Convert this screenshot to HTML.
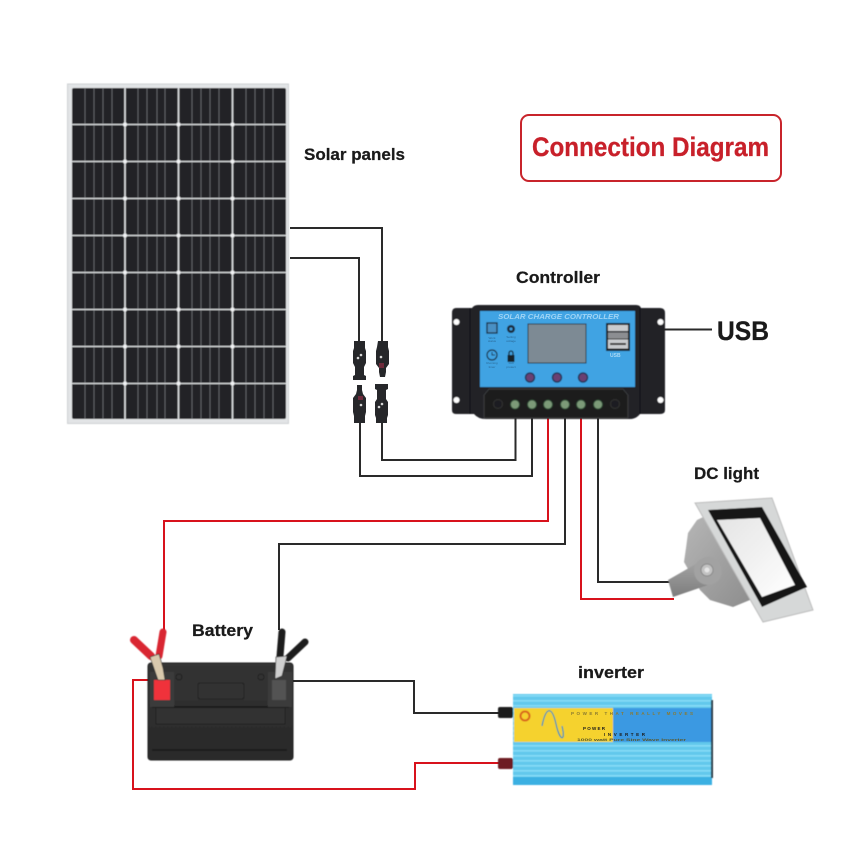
<!DOCTYPE html>
<html lang="en">
<head>
<meta charset="utf-8">
<title>Connection Diagram</title>
<style>
html,body{margin:0;padding:0;background:#fff}
svg{display:block}
text{font-family:"Liberation Sans",sans-serif}
.lb{font-weight:700;fill:#1a1a1a;stroke:#1a1a1a;stroke-width:.25}
</style>
</head>
<body>
<svg width="868" height="868" viewBox="0 0 868 868" xmlns="http://www.w3.org/2000/svg">
<defs>
<linearGradient id="arm" x1="0" y1="0" x2="0" y2="1"><stop offset="0" stop-color="#a9a9a9"/><stop offset="1" stop-color="#7d7d7d"/></linearGradient>
<linearGradient id="body" x1="0" y1="0" x2="1" y2="1"><stop offset="0" stop-color="#b8b8b8"/><stop offset="1" stop-color="#8a8a8a"/></linearGradient>
<linearGradient id="lens" x1="0" y1="0" x2="1" y2="1"><stop offset="0" stop-color="#e4e4e4"/><stop offset="1" stop-color="#ffffff"/></linearGradient>
<linearGradient id="batt" x1="0" y1="0" x2="0" y2="1"><stop offset="0" stop-color="#343434"/><stop offset="1" stop-color="#292929"/></linearGradient>
<pattern id="fins" width="10" height="5" patternUnits="userSpaceOnUse"><rect width="10" height="5" fill="#62c8ec"/><rect width="10" height="1.6" fill="#86dcf6"/></pattern>
<filter id="soft" x="-5%" y="-5%" width="110%" height="110%"><feGaussianBlur stdDeviation=".45"/></filter>
</defs>

<rect width="868" height="868" fill="#fff"/>

<!-- Solar panel -->
<g filter="url(#soft)">
<rect x="67.5" y="84" width="221" height="339.5" fill="#e2e4e6" stroke="#cfd2d4" stroke-width="1"/>
<rect x="72" y="88" width="214" height="331" rx="2" fill="#222225"/>
<path d="M85 88V419M94 88V419M103 88V419M112 88V419M138 88V419M147 88V419M157 88V419M165 88V419M192 88V419M201 88V419M210 88V419M219 88V419M246 88V419M255 88V419M264 88V419M273 88V419" stroke="#5f6063" stroke-width="1" fill="none"/>
<path d="M72 124.500H286M72 161.500H286M72 198.500H286M72 235.500H286M72 272.500H286M72 309.500H286M72 346.500H286M72 383.500H286" stroke="#dfe1e3" stroke-width="1.300" fill="none"/>
<path d="M125 88V419M178.500 88V419M232.500 88V419" stroke="#e6e8ea" stroke-width="1.500" fill="none"/>
<g fill="#f2f3f4">
<circle cx="125" cy="124.500" r="2"/><circle cx="178.500" cy="124.500" r="2"/><circle cx="232.500" cy="124.500" r="2"/>
<circle cx="125" cy="161.500" r="2"/><circle cx="178.500" cy="161.500" r="2"/><circle cx="232.500" cy="161.500" r="2"/>
<circle cx="125" cy="198.500" r="2"/><circle cx="178.500" cy="198.500" r="2"/><circle cx="232.500" cy="198.500" r="2"/>
<circle cx="125" cy="235.500" r="2"/><circle cx="178.500" cy="235.500" r="2"/><circle cx="232.500" cy="235.500" r="2"/>
<circle cx="125" cy="272.500" r="2"/><circle cx="178.500" cy="272.500" r="2"/><circle cx="232.500" cy="272.500" r="2"/>
<circle cx="125" cy="309.500" r="2"/><circle cx="178.500" cy="309.500" r="2"/><circle cx="232.500" cy="309.500" r="2"/>
<circle cx="125" cy="346.500" r="2"/><circle cx="178.500" cy="346.500" r="2"/><circle cx="232.500" cy="346.500" r="2"/>
<circle cx="125" cy="383.500" r="2"/><circle cx="178.500" cy="383.500" r="2"/><circle cx="232.500" cy="383.500" r="2"/>
</g>
</g>

<!-- Title -->
<rect x="521" y="115" width="260" height="66" rx="8" fill="#fff" stroke="#c8242b" stroke-width="2"/>
<text x="532" y="156" font-size="27" font-weight="700" fill="#c8202a" stroke="#c8202a" stroke-width=".3" textLength="237" lengthAdjust="spacingAndGlyphs">Connection Diagram</text>

<!-- Labels -->
<text class="lb" x="304" y="160" font-size="17" textLength="101" lengthAdjust="spacingAndGlyphs">Solar panels</text>
<text class="lb" x="516" y="283" font-size="17" textLength="84" lengthAdjust="spacingAndGlyphs">Controller</text>
<text class="lb" x="717" y="340" font-size="27" textLength="52" lengthAdjust="spacingAndGlyphs">USB</text>
<text class="lb" x="694" y="479" font-size="17" textLength="65" lengthAdjust="spacingAndGlyphs">DC light</text>
<text class="lb" x="192" y="636" font-size="17" textLength="61" lengthAdjust="spacingAndGlyphs">Battery</text>
<text class="lb" x="578" y="678" font-size="17" textLength="66" lengthAdjust="spacingAndGlyphs">inverter</text>

<!-- Wires -->
<g fill="none" stroke-width="2" stroke-linejoin="miter">
<path d="M290 228H382V342" stroke="#2a2a2a"/>
<path d="M290 258H359V342" stroke="#2a2a2a"/>
<path d="M360 420V476H532V415" stroke="#2a2a2a"/>
<path d="M382 420V460H515.500V415" stroke="#2a2a2a"/>
<path d="M548 415V521H164V630" stroke="#d8121c"/>
<path d="M565 415V544H279V630" stroke="#2a2a2a"/>
<path d="M581 415V599H674" stroke="#d8121c"/>
<path d="M598 415V582H674" stroke="#2a2a2a"/>
<path d="M610 329.500H712" stroke="#2a2a2a"/>
<path d="M293 681H414V713H502" stroke="#2a2a2a"/>
<path d="M158 680H133V789H415V763H502" stroke="#d8121c"/>
</g>

<!-- MC4 connectors -->
<g fill="#26272a">
<path d="M354 341h11v7l1 3v12l-2 4v8l2 1v4h-13v-4l2-1v-8l-2-4v-12l1-3z"/>
<path d="M378 341h10v6l1 4v13l-3 4v4l-1 5h-5l-1-5v-4l-3-4v-13l1-4z"/>
<path d="M357 385h5v5l1 4 3 4v14l-1 4v7h-11v-7l-1-4v-14l3-4 1-4z"/>
<path d="M375 384h13v5l-2 1v9l2 3v13l-1 3v5h-11v-5l-1-3v-13l2-3v-9l-2-1z"/>
</g>
<g fill="#d8d8d8"><circle cx="358" cy="358" r="1.300"/><circle cx="361" cy="355" r="1.300"/><circle cx="381" cy="357" r="1.300"/><circle cx="361" cy="405" r="1.300"/><circle cx="382" cy="404" r="1.300"/><circle cx="379" cy="407" r="1.300"/></g>
<g fill="#6f2b3c"><rect x="379" y="363" width="5" height="5"/><rect x="358" y="396" width="5" height="4"/></g>

<!-- Controller -->
<g filter="url(#soft)">
<path d="M456 308H472Q474 305 478 305H636Q640 305 641 308H660Q665 308 665 313V410Q665 414 660 414H640Q636 419 630 419H486Q478 419 474 414H456Q452 414 452 410V313Q452 308 456 308Z" fill="#232427"/>
<path d="M470 308V414M640 308V414" stroke="#17181a" stroke-width="1.500" fill="none"/>
<circle cx="456.500" cy="322" r="3" fill="#fff"/><circle cx="660.500" cy="322" r="3" fill="#fff"/>
<circle cx="456.500" cy="400" r="3" fill="#fff"/><circle cx="660.500" cy="400" r="3" fill="#fff"/>
<rect x="480" y="311" width="155" height="76" fill="#3fa3e3"/>
<rect x="528" y="324" width="58" height="39" fill="#7d8a94" stroke="#2b3540" stroke-width="1"/>
<rect x="487" y="323" width="10" height="10" fill="#4a90c4" stroke="#1c2c3c" stroke-width="1.300"/>
<circle cx="511" cy="329" r="4" fill="#1c2c3c"/><circle cx="511" cy="329" r="1.500" fill="#3fa3e3"/>
<circle cx="492" cy="355" r="5" fill="none" stroke="#1c2c3c" stroke-width="1.200"/>
<path d="M492 352v3h3" fill="none" stroke="#1c2c3c"/>
<rect x="507.500" y="355" width="7" height="7" fill="#12202c"/>
<path d="M509 355v-2a2 2 0 0 1 4 0v2" fill="none" stroke="#12202c" stroke-width="1.300"/>
<g fill="#6a3f72" stroke="#26385c" stroke-width="1.500"><circle cx="530" cy="377.500" r="4.500"/><circle cx="557" cy="377.500" r="4.500"/><circle cx="583" cy="377.500" r="4.500"/></g>
<rect x="606" y="323" width="24" height="28" fill="#1c2027"/>
<rect x="608" y="325" width="20" height="6" fill="#c9cbce"/><rect x="608" y="332.500" width="20" height="6" fill="#8c8e92"/>
<rect x="608" y="339.500" width="20" height="9" fill="#c9cbce"/><rect x="610" y="343" width="16" height="2" fill="#333"/>
<path d="M489 389H623L628 395V418H484V395Z" fill="#1b1c1e" stroke="#3a3b3d" stroke-width="1"/>
<circle cx="498" cy="404" r="4.500" fill="#1f1f20" stroke="#333" stroke-width="1"/><circle cx="615" cy="404" r="4.500" fill="#1f1f20" stroke="#333" stroke-width="1"/>
<g fill="#7c9a78" stroke="#2d4a35" stroke-width="1">
<circle cx="515" cy="404.500" r="4.500"/><circle cx="532" cy="404.500" r="4.500"/><circle cx="548" cy="404.500" r="4.500"/><circle cx="565" cy="404.500" r="4.500"/><circle cx="581" cy="404.500" r="4.500"/><circle cx="598" cy="404.500" r="4.500"/>
</g>
</g>
<text x="498" y="319" font-size="7.500" font-weight="700" font-style="italic" fill="#9fd4f5" textLength="121" lengthAdjust="spacingAndGlyphs">SOLAR CHARGE CONTROLLER</text>
<g font-size="3" fill="#2a6794" text-anchor="middle">
<text x="492" y="339">Work</text><text x="492" y="342">status</text>
<text x="511" y="338">Setting</text><text x="511" y="342">voltage</text>
<text x="492" y="364">Running</text><text x="492" y="368">timer</text>
<text x="511" y="364">Full</text><text x="511" y="368">protect</text>
</g>
<text x="610" y="357" font-size="5" font-weight="700" fill="#a9d8f5">USB</text>

<!-- DC light -->
<g filter="url(#soft)">
<path d="M697 520L688 533 686 548 684 562 700 590 710 600 733 607 762 595 722 508Z" fill="url(#body)"/>
<path d="M668 580L708 557 722 571 708 585 673 597Z" fill="url(#arm)"/>
<circle cx="708" cy="571" r="14" fill="#a2a2a2"/>
<circle cx="707" cy="570" r="6" fill="#c2c2c2" stroke="#888" stroke-width="1"/><circle cx="707" cy="570" r="2.500" fill="#e6e6e6"/>
<path d="M695 503L772 498 813 610 763 622Z" fill="#d6d8d8" stroke="#bdbdbd" stroke-width="1"/>
<path d="M708 510L762 507 807 587 762 607Z" fill="#131313"/>
<path d="M717 520L760 518 795 585 762 597Z" fill="url(#lens)"/>
</g>

<!-- Battery -->
<g filter="url(#soft)">
<rect x="148" y="663" width="145" height="97" rx="3" fill="url(#batt)" stroke="#202020"/>
<rect x="198" y="683" width="46" height="16" rx="2" fill="none" stroke="#222" stroke-width="1"/>
<rect x="156" y="707" width="129" height="17" fill="#323232" stroke="#202020"/>
<path d="M152 707H289M152 750H287" stroke="#161616" stroke-width="1.500" fill="none"/>
<rect x="150" y="672" width="24" height="35" fill="#3a3a3a"/><rect x="268" y="672" width="24" height="35" fill="#3a3a3a"/>
<rect x="154" y="680" width="16" height="20" fill="#f0303a"/>
<rect x="272" y="680" width="14" height="20" fill="#525252"/>
<circle cx="179" cy="677" r="3" fill="none" stroke="#222"/><circle cx="261" cy="677" r="3" fill="none" stroke="#222"/>
<g stroke-linecap="round" fill="none">
<path d="M134 640L151 656" stroke="#d92530" stroke-width="8"/>
<path d="M163 632L159 656" stroke="#d92530" stroke-width="7"/>
<path d="M282 632L280 656" stroke="#1f1f1f" stroke-width="7"/>
<path d="M305 642L288 658" stroke="#1f1f1f" stroke-width="7"/>
</g>
<path d="M150 657L159 654 163 668 165 680H158Z" fill="#d9c9ad" stroke="#333" stroke-width=".7"/>
<path d="M276 657L287 656 282 676 275 679Z" fill="#cfcfcf" stroke="#333" stroke-width=".7"/>
</g>

<!-- Inverter -->
<g filter="url(#soft)">
<rect x="513" y="694" width="199" height="91" fill="url(#fins)"/>
<rect x="513" y="694" width="199" height="14" fill="url(#fins)"/>
<rect x="514" y="708" width="99" height="34" fill="#f5d22e"/>
<rect x="613" y="708" width="99" height="34" fill="#3b99e2"/>
<rect x="513" y="777" width="199" height="8" fill="#3bb0e2"/>
<circle cx="525" cy="716" r="4.500" fill="none" stroke="#d9651e" stroke-width="2"/>
<path d="M542 726C546 706 552 706 556 724S566 742 562 726" fill="none" stroke="#2d8fb5" stroke-width="1.300"/>
<rect x="498" y="707" width="15" height="11" rx="2" fill="#1e1e1e"/>
<rect x="498" y="758" width="15" height="11" rx="2" fill="#6e1c24"/>
<rect x="711" y="700" width="2" height="78" fill="#2a3a44"/>
</g>
<text x="571" y="715" font-size="4.500" font-weight="700" fill="#8a7a30" textLength="122" lengthAdjust="spacing">POWER THAT REALLY MOVES</text>
<text x="583" y="730" font-size="4.500" font-weight="700" fill="#1a1a1a" textLength="22" lengthAdjust="spacing">POWER</text>
<text x="604" y="736" font-size="4.500" font-weight="700" fill="#1a1a1a" textLength="41" lengthAdjust="spacing">INVERTER</text>
<text x="577" y="741" font-size="3.500" font-weight="700" fill="#5a5a30" textLength="109" lengthAdjust="spacingAndGlyphs">1000 watt Pure Sine Wave Inverter</text>
</svg>
</body>
</html>
